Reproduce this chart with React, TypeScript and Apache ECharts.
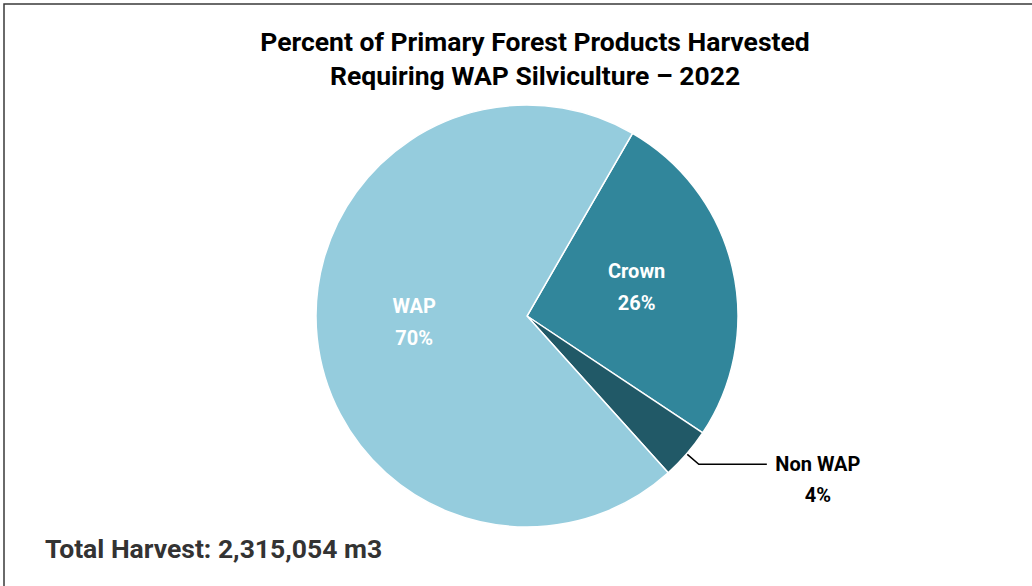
import React, { useEffect, useRef } from "react";
import * as echarts from "echarts";

const categories = ["Crown", "Non WAP", "WAP"];
const shares = [26, 4, 70];
const colors = ["#31869B", "#215967", "#95CCDD"];
const titleLines = ["Percent of Primary Forest Products Harvested", "Requiring WAP Silviculture \u2013 2022"];
const totalNote = "Total Harvest: 2,315,054 m3";

const labelShift: Record<string, { dx: number; dy: number }> = {
  Crown: { dx: 4, dy: -4 },
  "Non WAP": { dx: 0, dy: 15 },
  WAP: { dx: -5, dy: -5 },
};

export default function App() {
  const ref = useRef<HTMLDivElement>(null);
  useEffect(() => {
    if (!ref.current) return;
    const chart = echarts.init(ref.current, undefined, { renderer: "svg" });
    const data = categories.map((name, i) => {
      const inside = name !== "Non WAP";
      return {
        name,
        value: shares[i],
        itemStyle: { color: colors[i] },
        label: inside
          ? {
              position: "inside",
              color: "#ffffff",
              fontSize: 20,
              fontWeight: "bold",
              lineHeight: 32,
              formatter: "{b}\n{d}%",
            }
          : {
              position: "outside",
              color: "#000000",
              formatter: "{n|{b}}\n{n|{d}%}",
              rich: {
                n: {
                  width: 92,
                  align: "center",
                  fontSize: 20,
                  fontWeight: "bold",
                  lineHeight: 31,
                  color: "#000000",
                  fontFamily: "Roboto",
                },
              },
            },
        labelLine: inside
          ? { show: false }
          : { show: true, length: 16, length2: 68, lineStyle: { color: "#000000", width: 1.5 } },
      };
    });
    chart.setOption({
      animation: false,
      backgroundColor: "#ffffff",
      textStyle: { fontFamily: "Roboto" },
      title: {
        text: titleLines.join("\n"),
        left: 530,
        top: 19,
        textAlign: "center",
        textStyle: { fontSize: 26.5, fontWeight: "bold", color: "#000000", lineHeight: 34, fontFamily: "Roboto" },
      },
      graphic: [
        {
          type: "rect",
          shape: { x: 4, y: 4, width: 1060, height: 620 },
          style: { fill: "none", stroke: "#3a3a3a", lineWidth: 1.5 },
          silent: true,
        },
        {
          type: "text",
          left: 45,
          top: 535,
          style: { text: totalNote, fontSize: 26.5, fontWeight: "bold", fill: "#333333", fontFamily: "Roboto" },
        },
      ],
      series: [
        {
          type: "pie",
          center: [527, 316],
          radius: [0, 211],
          startAngle: 60,
          clockwise: true,
          percentPrecision: 0,
          itemStyle: { borderColor: "#ffffff", borderWidth: 1.5 },
          emphasis: { disabled: true },
          labelLayout: (params: any) => labelShift[categories[params.dataIndex]] || {},
          data,
        },
      ],
    });
    return () => chart.dispose();
  }, []);
  return (
    <div
      ref={ref}
      style={{ position: "fixed", left: 0, top: 0, width: 1032, height: 586 }}
    />
  );
}
